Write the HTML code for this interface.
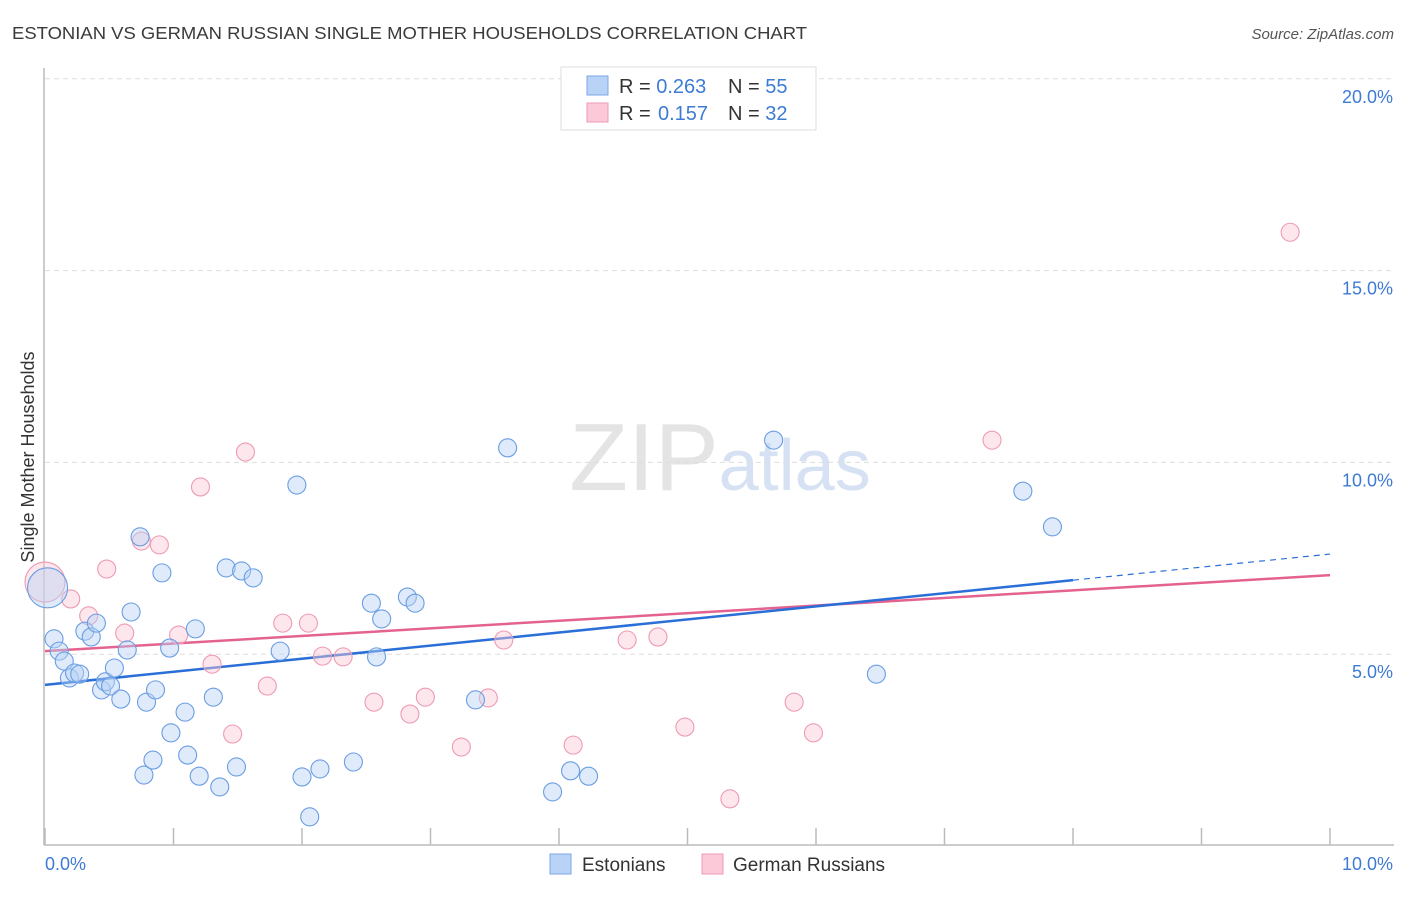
<!DOCTYPE html>
<html><head><meta charset="utf-8"><style>
body{margin:0;background:#fff;font-family:"Liberation Sans",sans-serif;}
svg text{font-family:"Liberation Sans",sans-serif;}
</style></head><body>
<svg id="chart" width="1406" height="892" viewBox="0 0 1406 892" xmlns="http://www.w3.org/2000/svg">
<text x="12" y="39" font-size="17.5" fill="#3a3a3a" textLength="795" lengthAdjust="spacingAndGlyphs">ESTONIAN VS GERMAN RUSSIAN SINGLE MOTHER HOUSEHOLDS CORRELATION CHART</text>
<text x="1394" y="39" font-size="15" fill="#555" font-style="italic" text-anchor="end">Source: ZipAtlas.com</text>
<text x="720" y="490" font-size="96" text-anchor="middle" fill="#e4e4e4" font-family="Liberation Serif">ZIP<tspan fill="#d6e2f3" font-family="Liberation Sans" font-size="72">atlas</tspan></text>
<g id="grid"></g><g id="axes"></g><g id="trends"></g><g id="points"></g>
<text transform="translate(34,457) rotate(-90)" font-size="18" fill="#333" text-anchor="middle">Single Mother Households</text>
<g>
<rect x="561" y="67" width="255" height="63" fill="#fff" stroke="#ddd"/>
<rect x="587" y="76" width="21" height="19" fill="#b8d3f5" stroke="#7aa7e6"/>
<rect x="587" y="103" width="21" height="19" fill="#fbc9d8" stroke="#ee9ab3"/>
<text x="619" y="93" font-size="20" fill="#333">R = <tspan fill="#3d7bd4">0.263</tspan><tspan x="728">N = </tspan><tspan fill="#3d7bd4">55</tspan></text>
<text x="619" y="120" font-size="20" fill="#333">R = <tspan fill="#3d7bd4" x="658">0.157</tspan><tspan x="728">N = </tspan><tspan fill="#3d7bd4">32</tspan></text>
</g>
<g>
<rect x="550" y="854" width="21" height="20" fill="#b8d3f5" stroke="#7aa7e6"/>
<text x="582" y="871" font-size="19" fill="#333">Estonians</text>
<rect x="702" y="854" width="21" height="20" fill="#fbc9d8" stroke="#ee9ab3"/>
<text x="733" y="871" font-size="19" fill="#333">German Russians</text>
</g>
</svg>
<script>
const blueX=[0.02,0.07,0.11,0.15,0.19,0.23,0.27,0.31,0.36,0.40,0.44,0.47,0.51,0.54,0.59,0.64,0.67,0.74,0.77,0.79,0.84,0.86,0.91,0.97,0.98,1.09,1.11,1.17,1.20,1.31,1.36,1.41,1.49,1.53,1.62,1.83,1.96,2.00,2.06,2.14,2.40,2.54,2.58,2.62,2.82,2.88,3.35,3.60,3.95,4.09,4.23,5.67,6.47,7.61,7.84];
const blueY=[6.73,5.40,5.08,4.82,4.38,4.51,4.48,5.60,5.45,5.81,4.07,4.28,4.17,4.64,3.83,5.11,6.10,8.06,1.85,3.75,2.24,4.07,7.12,5.16,2.95,3.49,2.37,5.66,1.82,3.88,1.54,7.25,2.06,7.17,6.99,5.08,9.41,1.80,0.76,2.01,2.19,6.33,4.93,5.92,6.49,6.33,3.81,10.38,1.41,1.96,1.82,10.58,4.48,9.25,8.32];
const pinkX=[0.00,0.20,0.34,0.48,0.62,0.75,0.89,1.04,1.21,1.30,1.46,1.56,1.73,1.85,2.05,2.16,2.32,2.56,2.84,2.96,3.24,3.45,3.57,4.11,4.53,4.77,4.98,5.33,5.83,5.98,7.37,9.69];
const pinkY=[6.88,6.44,6.00,7.22,5.55,7.95,7.85,5.50,9.36,4.74,2.92,10.27,4.17,5.81,5.81,4.95,4.93,3.75,3.44,3.88,2.58,3.86,5.37,2.63,5.37,5.45,3.10,1.23,3.75,2.95,10.58,16.0];
const blueTrend=[4.20,6.93,7.61];
const blueTrendX=[0,8.0,10.0];
const pinkTrend=[5.08,7.06];
const pinkTrendX=[0,10.0];
const yTicks=[5,10,15,20];
const yTickLabels=["5.0%","10.0%","15.0%","20.0%"];
const xTicks=[0,1,2,3,4,5,6,7,8,9,10];

const NS="http://www.w3.org/2000/svg";
const X0=45,X1=1330,YB=846,PX=191.8/5;
const sx=v=>X0+(X1-X0)*v/10;
const sy=v=>YB-v*PX;
function mk(tag,attrs,parent){const e=document.createElementNS(NS,tag);for(const k in attrs)e.setAttribute(k,attrs[k]);parent.appendChild(e);return e;}
const grid=document.getElementById('grid'),axes=document.getElementById('axes'),tr=document.getElementById('trends'),pts=document.getElementById('points');
yTicks.forEach((t,i)=>{
 const l=mk('line',{x1:45,x2:1394,y1:sy(t),y2:sy(t),stroke:'#ddd','stroke-dasharray':'5,4'},grid);
 
 
 const tx=mk('text',{x:1393,y:sy(t)+24,'font-size':18,fill:'#3d7bd4','text-anchor':'end'},grid);
 tx.textContent=yTickLabels[i];
 
 
});
const ya=mk('line',{x1:44,x2:44,y1:68,y2:845,stroke:'#bbb','stroke-width':1.5},axes);


const xa=mk('line',{x1:44,x2:1394,y1:845,y2:845,stroke:'#bbb','stroke-width':1.5},axes);


xTicks.forEach(t=>{
 const l=mk('line',{x1:sx(t),x2:sx(t),y1:828,y2:845,stroke:'#bbb','stroke-width':1.5},axes);
 
 
});
const xl0=mk('text',{x:45,y:870,'font-size':18,fill:'#3d7bd4'},axes);xl0.textContent='0.0%';


const xl1=mk('text',{x:1393,y:870,'font-size':18,fill:'#3d7bd4','text-anchor':'end'},axes);xl1.textContent='10.0%';



function dots(xs,ys,fill,stroke,name){
 xs.forEach((x,i)=>{
  const c=mk('circle',{cx:sx(x),cy:sy(ys[i]),r:i===0?20:9,fill:fill,'fill-opacity':0.45,stroke:stroke,'stroke-width':1.1},pts);
  
  
 });
}
dots(pinkX,pinkY,'#fbc9d8','#ee9ab3','german-russian-point');
dots(blueX,blueY,'#b8d3f5','#6a9de3','estonian-point');

const pl=mk('line',{x1:sx(pinkTrendX[0]),y1:sy(pinkTrend[0]),x2:sx(pinkTrendX[1]),y2:sy(pinkTrend[1]),stroke:'#e4628f','stroke-width':2.5},tr);


const bl=mk('line',{x1:sx(blueTrendX[0]),y1:sy(blueTrend[0]),x2:sx(blueTrendX[1]),y2:sy(blueTrend[1]),stroke:'#2a6fd8','stroke-width':2.5},tr);


const bd=mk('line',{x1:sx(blueTrendX[1]),y1:sy(blueTrend[1]),x2:sx(blueTrendX[2]),y2:sy(blueTrend[2]),stroke:'#2a6fd8','stroke-width':1.2,'stroke-dasharray':'6,5'},tr);


</script>
</body></html>
